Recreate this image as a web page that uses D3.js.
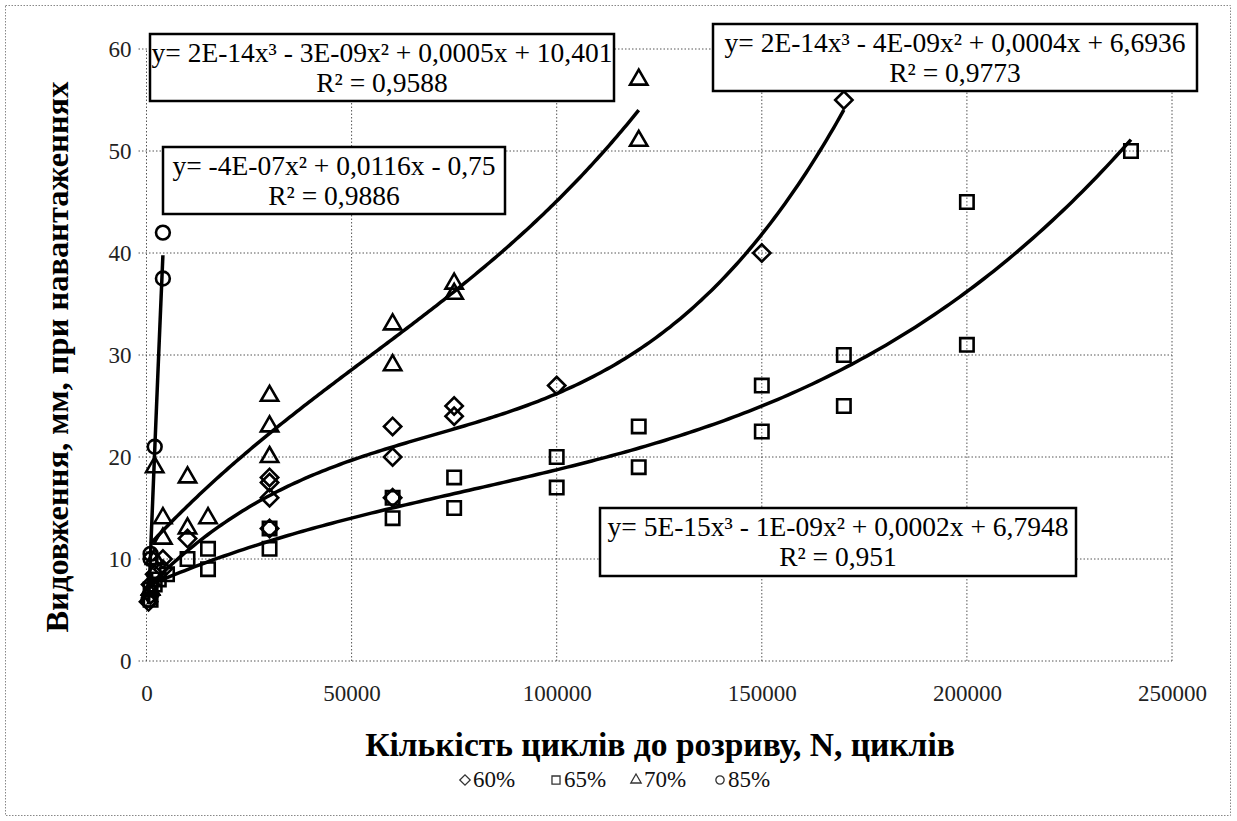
<html>
<head>
<meta charset="utf-8">
<style>
  svg text { font-family: "Liberation Serif", "Times New Roman", "DejaVu Serif", serif; }
</style>
</head>
<body style="margin: 0 0 0 0; background: #fff;">
<svg id="world"></svg>
<script src="https://cdnjs.cloudflare.com/ajax/libs/d3/7.8.5/d3.min.js"></script>
<script type="text/javascript">

// data: [cycles N, elongation mm]
var s60 = [[500,5.8],[1000,6.5],[1000,7.5],[2000,8.5],[4000,9],[4000,10],[10000,12],
  [30000,13],[30000,16],[30000,17.5],[30000,18],[60000,16],[60000,20],[60000,23],
  [75000,24],[75000,25],[100000,27],[150000,40],[170000,55]]
var s65 = [[1000,6],[1000,7],[2000,7.5],[3000,8],[5000,8.5],[10000,10],[15000,9],[15000,11],
  [30000,11],[30000,13],[60000,14],[60000,16],[75000,15],[75000,18],[100000,17],[100000,20],
  [120000,19],[120000,23],[150000,22.5],[150000,27],[170000,25],[170000,30],
  [200000,31],[200000,45],[240000,50]]
var s70 = [[1000,7],[2000,10],[2000,19],[4000,12],[4000,14],[10000,13],[10000,18],[15000,14],
  [30000,20],[30000,23],[30000,26],[60000,29],[60000,33],[75000,36],[75000,37],
  [120000,51],[120000,57]]
var s85 = [[500,6],[1000,10.5],[1000,10],[2000,21],[4000,37.5],[4000,42]]

var seriesNames = ["60%", "65%", "70%", "85%"]
var seriesData = [s60, s65, s70, s85]
var seriesShapes = ["diamond", "square", "triangle", "circle"]
var trendDegrees = [3, 3, 3, 2]

var xTicks = [0, 50000, 100000, 150000, 200000, 250000]
var yTicks = [0, 10, 20, 30, 40, 50, 60]

var equations = [
  ["y= 2E-14x³ - 4E-09x² + 0,0004x + 6,6936", "R² = 0,9773"],
  ["y= 5E-15x³ - 1E-09x² + 0,0002x + 6,7948", "R² = 0,951"],
  ["y= 2E-14x³ - 3E-09x² + 0,0005x + 10,401", "R² = 0,9588"],
  ["y= -4E-07x² + 0,0116x - 0,75", "R² = 0,9886"]
]
// label boxes in px: [center x, top y, width, height]
var eqBoxes = [[955, 24, 484, 67], [838, 508, 476, 68], [382, 34, 464, 67], [334, 147, 342, 67]]

var xTitle = "Кількість циклів до розриву, N, циклів"
var yTitle = "Видовження, мм, при навантаженнях"

var W = 1237, H = 821
var serif = "Liberation Serif, Times New Roman, DejaVu Serif, serif"

var world = d3.select("#world").attr("width", W).attr("height", H)

world.append("rect")
  .attr("x", 5.5).attr("y", 5.5).attr("width", 1225).attr("height", 810)
  .attr("fill", "none").attr("stroke", "#888").attr("stroke-dasharray", "1.5,1.5")

var x = d3.scaleLinear().domain([0, 250000]).range([146.5, 1172])
var y = d3.scaleLinear().domain([0, 60]).range([661, 49])

var grid = world.append("g")
grid.selectAll(".gx").data(xTicks).enter().append("line")
  .attr("x1", function(d) { return x(d) }).attr("x2", function(d) { return x(d) })
  .attr("y1", y(0)).attr("y2", y(60))
  .attr("stroke", "#555").attr("stroke-width", 1).attr("stroke-dasharray", "1.5,2")
grid.selectAll(".gy").data(yTicks).enter().append("line")
  .attr("x1", x(0) - 8).attr("x2", x(250000))
  .attr("y1", function(d) { return y(d) }).attr("y2", function(d) { return y(d) })
  .attr("stroke", "#555").attr("stroke-width", 1).attr("stroke-dasharray", "1.5,2")

var xAxis = world.append("g").attr("transform", "translate(0," + y(0) + ")")
  .call(d3.axisBottom(x).tickValues(xTicks).tickFormat(d3.format("d")).tickSize(0).tickPadding(24))
var yAxis = world.append("g").attr("transform", "translate(" + x(0) + ",0)")
  .call(d3.axisLeft(y).tickValues(yTicks).tickSize(0).tickPadding(15))
;[xAxis, yAxis].forEach(function(a) {
  a.attr("font-family", null)
  a.select(".domain").remove()
  a.selectAll("text").style("font-family", serif).attr("font-size", 23).attr("fill", "#222")
})

world.append("text").attr("x", 660).attr("y", 756).attr("text-anchor", "middle")
  .style("font-family", serif).attr("font-weight", "bold").attr("font-size", 33.5).text(xTitle)
world.append("text").attr("transform", "translate(68,357) rotate(-90)").attr("text-anchor", "middle")
  .style("font-family", serif).attr("font-weight", "bold").attr("font-size", 32.5).text(yTitle)

// least squares polynomial, x scaled to 1e5 for conditioning
var polyfit = function(pts, deg) {
  var n = deg + 1, A = [], b = []
  for (var i = 0; i < n; i++) { A.push(d3.range(n).map(function() { return 0 })); b.push(0) }
  pts.forEach(function(p) {
    var t = p[0] / 1e5
    for (var i = 0; i < n; i++) {
      b[i] += p[1] * Math.pow(t, i)
      for (var j = 0; j < n; j++) A[i][j] += Math.pow(t, i + j)
    }
  })
  for (var c = 0; c < n; c++) {
    for (var r = c + 1; r < n; r++) {
      var f = A[r][c] / A[c][c]
      for (var k = c; k < n; k++) A[r][k] -= f * A[c][k]
      b[r] -= f * b[c]
    }
  }
  var coef = []
  for (var r = n - 1; r >= 0; r--) {
    var s = b[r]
    for (var k = r + 1; k < n; k++) s -= A[r][k] * coef[k]
    coef[r] = s / A[r][r]
  }
  return function(N) {
    var t = N / 1e5
    return coef.reduce(function(acc, c, i) { return acc + c * Math.pow(t, i) }, 0)
  }
}

var line = d3.line().x(function(d) { return x(d[0]) }).y(function(d) { return y(d[1]) })

seriesData.forEach(function(data, i) {
  var f = polyfit(data, trendDegrees[i])
  var ext = d3.extent(data, function(d) { return d[0] })
  var samples = d3.range(0, 201).map(function(k) {
    var N = ext[0] + (ext[1] - ext[0]) * k / 200
    return [N, f(N)]
  })
  world.append("path").datum(samples).attr("d", line)
    .attr("fill", "none").attr("stroke", "#000").attr("stroke-width", 3.5)
})

var symbolFor = function(shape, scale) {
  var s = scale || 1
  if (shape === "diamond") return { d: d3.symbol(d3.symbolSquare, 150 * s * s)(), rot: 45 }
  if (shape === "square") return { d: d3.symbol(d3.symbolSquare, 180 * s * s)(), rot: 0 }
  if (shape === "triangle") return { d: d3.symbol(d3.symbolTriangle, 130 * s * s)(), rot: 0 }
  return { d: d3.symbol(d3.symbolCircle, 150 * s * s)(), rot: 0 }
}

seriesData.forEach(function(data, i) {
  var sym = symbolFor(seriesShapes[i])
  world.append("g").selectAll("path").data(data).enter().append("path")
    .attr("d", sym.d)
    .attr("transform", function(d) { return "translate(" + x(d[0]) + "," + y(d[1]) + ") rotate(" + sym.rot + ")" })
    .attr("fill", "none").attr("stroke", "#000").attr("stroke-width", 2.6)
})

equations.forEach(function(eq, i) {
  var bx = eqBoxes[i]
  var cx = bx[0], top = bx[1], w = bx[2], h = bx[3]
  var g = world.append("g")
  g.append("rect").attr("x", cx - w / 2).attr("y", top).attr("width", w).attr("height", h)
    .attr("fill", "#fff").attr("stroke", "#000").attr("stroke-width", 2.5)
  g.selectAll("text").data(eq).enter().append("text")
    .attr("x", cx).attr("y", function(d, k) { return top + 28 + k * 30 })
    .attr("text-anchor", "middle").style("font-family", serif).attr("font-size", 27.5)
    .attr("fill", "#000").text(function(d) { return d })
})

var legend = world.append("g").attr("transform", "translate(0,787)")
var legendX = [465, 556, 636, 720]
seriesNames.forEach(function(name, i) {
  var sym = symbolFor(seriesShapes[i], 0.6)
  legend.append("path").attr("d", sym.d)
    .attr("transform", "translate(" + legendX[i] + ",-7) rotate(" + sym.rot + ")")
    .attr("fill", "none").attr("stroke", "#333").attr("stroke-width", 1.3)
  legend.append("text").attr("x", legendX[i] + 8).attr("y", 0)
    .style("font-family", serif).attr("font-size", 23).attr("fill", "#111").text(name)
})

</script>
</body>
</html>
